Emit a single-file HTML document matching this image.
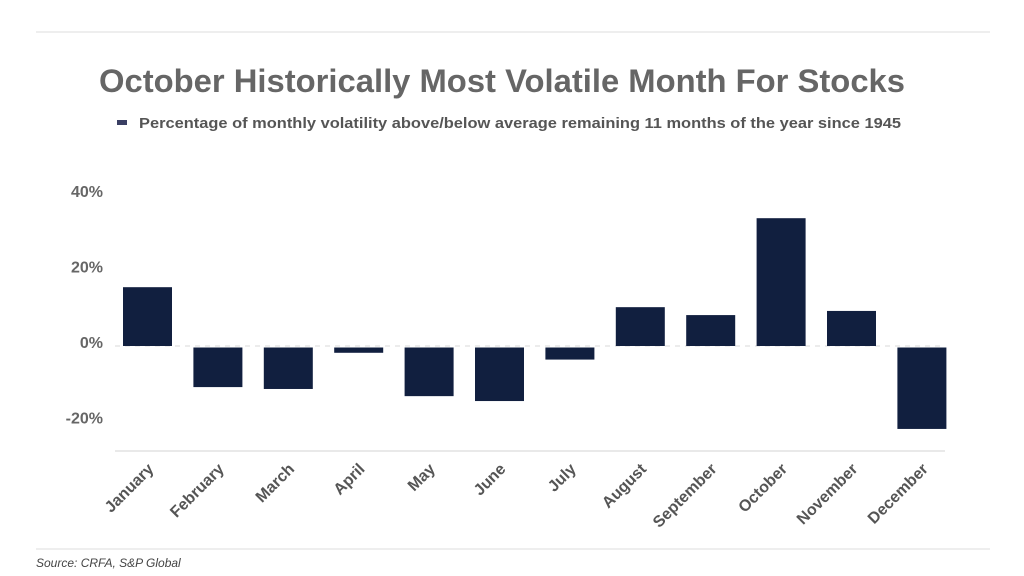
<!DOCTYPE html>
<html><head><meta charset="utf-8"><style>
body{margin:0;background:#fff;}
svg{display:block;font-family:"Liberation Sans",sans-serif;}
</style></head><body>
<svg id="chart" width="1024" height="576" viewBox="0 0 1024 576">
<line x1="36" y1="32" x2="990" y2="32" stroke="#ddd" stroke-width="1"/>
<line x1="36" y1="549" x2="990" y2="549" stroke="#ddd" stroke-width="1"/>
<text x="502" y="92" text-anchor="middle" font-size="32" font-weight="bold" fill="#666" textLength="806" lengthAdjust="spacingAndGlyphs">October Historically Most Volatile Month For Stocks</text>
<rect x="117" y="120" width="10" height="5" fill="#3a3f63"/>
<text x="139" y="128" font-size="15" font-weight="bold" fill="#555" textLength="762" lengthAdjust="spacingAndGlyphs">Percentage of monthly volatility above/below average remaining 11 months of the year since 1945</text>
<line x1="115" y1="451" x2="945" y2="451" stroke="#e2e2e2" stroke-width="1.5"/>
<g id="marks"></g>
<text x="36" y="567" font-size="12" font-style="italic" fill="#444">Source: CRFA, S&amp;P Global</text>
</svg>
<script>
const months=["January","February","March","April","May","June","July","August","September","October","November","December"];
const values=[15.6,-10.9,-11.4,-1.8,-13.3,-14.6,-3.6,10.3,8.2,33.9,9.3,-22.0];
const yTicks=[40,20,0,-20];
const yTickLabels=["40%","20%","0%","-20%"];
const NS="http://www.w3.org/2000/svg";
const g=document.getElementById("marks");
function y(v){return 346-v*3.77;}
function xc(i){return 147.5+i*70.4;}
const bw=49;
const zl=document.createElementNS(NS,"line");


zl.setAttribute("x1",115);zl.setAttribute("x2",945);zl.setAttribute("y1",y(0));zl.setAttribute("y2",y(0));
zl.setAttribute("stroke","#d8d8d8");zl.setAttribute("stroke-dasharray","5,5");
g.appendChild(zl);
yTicks.forEach((t,k)=>{
 const tx=document.createElementNS(NS,"text");
 
 
 tx.setAttribute("x",103);tx.setAttribute("y",y(t)+2);
 tx.setAttribute("text-anchor","end");tx.setAttribute("font-size","16");tx.setAttribute("font-weight","bold");tx.setAttribute("fill","#666");
 tx.textContent=yTickLabels[k];g.appendChild(tx);
});
values.forEach((v,i)=>{
 const r=document.createElementNS(NS,"rect");
 
 
 const top=v>=0?y(v):y(0)+1.5;
 const h=v>=0?y(0)-y(v):y(v)-y(0)-1.5;
 r.setAttribute("x",xc(i)-bw/2);r.setAttribute("y",top);r.setAttribute("width",bw);r.setAttribute("height",Math.max(h,1));
 r.setAttribute("fill","#111f3f");g.appendChild(r);
 const tx=document.createElementNS(NS,"text");
 
 
 const ax=xc(i)+7, ay=470;
 tx.setAttribute("x",ax);tx.setAttribute("y",ay);
 tx.setAttribute("text-anchor","end");tx.setAttribute("font-size","16");tx.setAttribute("font-weight","bold");tx.setAttribute("fill","#555");
 tx.setAttribute("transform","rotate(-45 "+ax+" "+ay+")");
 tx.textContent=months[i];g.appendChild(tx);
});
</script>
</body></html>
